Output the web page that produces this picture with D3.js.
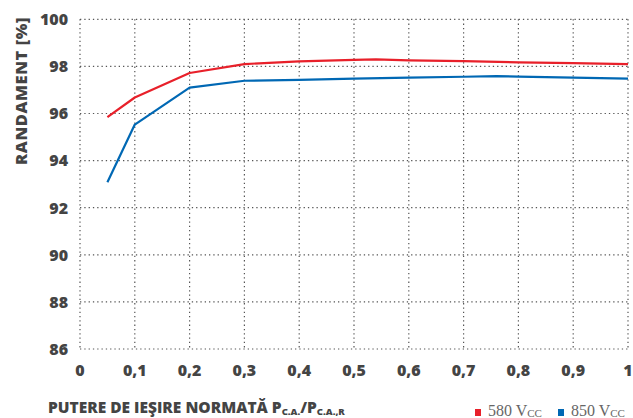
<!DOCTYPE html>
<html>
<head>
<meta charset="utf-8">
<script src="https://cdn.jsdelivr.net/npm/d3@7"></script>
<style>
body { margin: 0; background: #fff; }
</style>
</head>
<body>
<div id="chart"></div>
<script>
var w = 633;
var h = 418;

var xTicks = [0, 0.1, 0.2, 0.3, 0.4, 0.5, 0.6, 0.7, 0.8, 0.9, 1];
var yTicks = [86, 88, 90, 92, 94, 96, 98, 100];

var seriesNames = ["580 V", "850 V"];
var seriesColors = ["#e8202a", "#0068b4"];

var loadX = [0.05, 0.1, 0.2, 0.3, 0.4, 0.5, 0.54, 0.6, 0.7, 0.8, 0.9, 1];
var eff580 = [95.85, 96.68, 97.72, 98.1, 98.21, 98.28, 98.3, 98.26, 98.22, 98.17, 98.14, 98.1];
var loadX850 = [0.05, 0.1, 0.2, 0.3, 0.4, 0.5, 0.6, 0.7, 0.76, 0.8, 0.9, 1];
var eff850 = [93.08, 95.53, 97.1, 97.39, 97.43, 97.48, 97.52, 97.56, 97.59, 97.57, 97.52, 97.48];

var x = d3.scaleLinear().domain([0, 1]).range([80, 628]);
var y = d3.scaleLinear().domain([86, 100]).range([349, 19.3]);

var svg = d3.select("#chart").append("svg").attr("width", w).attr("height", h);

var txt = "#444";

// grid
svg.append("g").selectAll("line").data(yTicks).enter().append("line")
    .attr("x1", x(0)).attr("x2", x(1))
    .attr("y1", function(d){ return y(d); })
    .attr("y2", function(d){ return y(d); })
    .attr("stroke", "#555").attr("stroke-width", 1.2)
    .attr("stroke-dasharray", "1.3,3");

svg.append("g").selectAll("line").data(xTicks).enter().append("line")
    .attr("x1", function(d){ return x(d); })
    .attr("x2", function(d){ return x(d); })
    .attr("y1", y(100)).attr("y2", y(86))
    .attr("stroke", "#555").attr("stroke-width", 1.2)
    .attr("stroke-dasharray", "1.3,3");

// tick labels
svg.append("g").selectAll("text").data(yTicks).enter().append("text")
    .text(function(d){ return d; })
    .attr("x", 68)
    .attr("y", function(d){ return y(d) + 5.8; })
    .attr("text-anchor", "end")
    .attr("font-family", "Open Sans")
    .attr("font-weight", 800)
    .attr("font-size", "16px")
    .attr("fill", txt);

svg.append("g").selectAll("text").data(xTicks).enter().append("text")
    .text(function(d){ return String(d).replace(".", ","); })
    .attr("x", function(d){ return x(d); })
    .attr("y", 376)
    .attr("text-anchor", "middle")
    .attr("font-family", "Open Sans")
    .attr("font-weight", 800)
    .attr("font-size", "16px")
    .attr("fill", txt);

// lines
var line = d3.line()
    .x(function(d){ return x(d[0]); })
    .y(function(d){ return y(d[1]); });

var series = [d3.zip(loadX, eff580), d3.zip(loadX850, eff850)];

svg.selectAll("path.s").data(series).enter().append("path")
    .attr("class", "s")
    .attr("d", line)
    .attr("fill", "none")
    .attr("stroke", function(d, i){ return seriesColors[i]; })
    .attr("stroke-width", 2.2)
    .attr("stroke-linejoin", "round");

// axis titles
svg.append("text")
    .attr("transform", "translate(27,91) rotate(-90)")
    .attr("text-anchor", "middle")
    .attr("font-family", "Open Sans")
    .attr("font-weight", 800)
    .attr("font-size", "16.5px")
    .attr("letter-spacing", "0.6px")
    .attr("fill", txt)
    .text("RANDAMENT [%]");

var xt = svg.append("text")
    .attr("x", 48).attr("y", 413)
    .attr("font-family", "Open Sans")
    .attr("font-weight", 800)
    .attr("font-size", "15.5px")
    .attr("fill", txt);
xt.append("tspan").text("PUTERE DE IEŞIRE NORMATĂ P");
xt.append("tspan").attr("font-size", "9.5px").attr("dy", 2).text("C.A.");
xt.append("tspan").attr("dy", -2).text("/P");
xt.append("tspan").attr("font-size", "9.5px").attr("dy", 2).text("C.A.,R");

// legend
var legX = [475, 558];
var leg = svg.selectAll("g.leg").data(seriesNames).enter().append("g")
    .attr("class", "leg")
    .attr("transform", function(d, i){ return "translate(" + legX[i] + ",409)"; });
leg.append("rect").attr("width", 6).attr("height", 7)
    .attr("fill", function(d, i){ return seriesColors[i]; });
var lt = leg.append("text").attr("x", 13).attr("y", 6.5)
    .attr("font-family", "Liberation Serif")
    .attr("font-size", "16px")
    .attr("fill", "#666");
lt.append("tspan").text(function(d){ return d; });
lt.append("tspan").attr("font-size", "11px").attr("dy", 1.5).text("CC");
</script>
</body>
</html>
